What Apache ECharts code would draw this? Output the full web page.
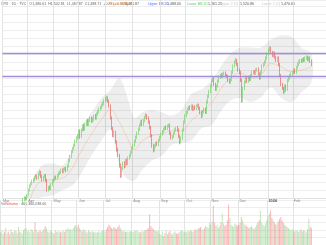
<!DOCTYPE html>
<html><head><meta charset="utf-8">
<script src="https://cdn.jsdelivr.net/npm/echarts@6/dist/echarts.min.js"></script>
<style>html,body{margin:0;padding:0;background:#fff}#c{width:326px;height:245px}</style>
</head><body><div id="c"></div>
<script>
// ---- data ----
const monthLabels = ['Mar','Apr','May','Jun','Jul','Aug','Sep','Oct','Nov','Dec','2024','Feb'];
const monthDays   = [20,20,20,21,22,22,20,20,22,23,20,15];
const futureSlots = 11;

const opens = [
1294,1296,1299,1302,1300,1304,1307,1305,1309,1311,1308,1312,1314,1311,1315,1317,1314,1318,1320,1319,
1325,1330,1335,1338,1341,1343,1346,1347,1345,1350,1352,1347,1343,1346,1348,1342,1330,1333,1332,1337,
1341,1343,1346,1345,1348,1351,1352,1355,1353,1356,1357,1355,1360,1367,1372,1378,1382,1386,1391,1395,
1397,1403,1397,1405,1410,1406,1412,1416,1412,1417,1420,1416,1418,1422,1420,1425,1428,1431,1433,1436,1438,
1442,1443,1445,1441,1435,1420,1407,1398,1402,1390,1380,1373,1361,1348,1357,1363,1360,1367,1363,1370,1373,1377,
1382,1386,1391,1396,1401,1406,1411,1415,1412,1417,1421,1423,1420,1415,1408,1398,1386,1380,1385,1388,1387,1392,
1396,1400,1403,1406,1408,1407,1410,1411,1401,1395,1397,1401,1405,1407,1405,1397,1390,1395,1405,1415,
1423,1427,1431,1433,1432,1435,1431,1433,1432,1435,1436,1432,1427,1423,1428,1431,1427,1440,1447,1453,
1460,1467,1470,1462,1456,1460,1466,1471,1473,1472,1475,1476,1473,1472,1467,1465,1468,1477,1485,1490,1492,1487,
1480,1477,1467,1442,1457,1465,1470,1466,1471,1468,1473,1477,1478,1476,1480,1481,1475,1470,1477,1485,1487,1490,1495,
1500,1505,1507,1502,1498,1501,1496,1492,1495,1487,1473,1462,1457,1453,1460,1456,1467,1470,1473,1475,
1477,1480,1477,1483,1487,1490,1492,1491,1493,1492,1495,1496,1493,1495,1491];
const closes = [
1296,1299,1302,1300,1304,1307,1305,1309,1311,1308,1312,1314,1311,1315,1317,1314,1318,1320,1319,1323,
1330,1335,1338,1341,1343,1346,1347,1345,1350,1352,1347,1343,1346,1348,1342,1330,1333,1332,1337,1341,
1343,1346,1345,1348,1351,1352,1355,1353,1356,1357,1355,1360,1367,1372,1378,1382,1386,1391,1395,1397,
1403,1397,1405,1410,1406,1412,1416,1412,1417,1420,1416,1418,1422,1420,1425,1428,1431,1433,1436,1438,1442,
1443,1445,1441,1435,1420,1407,1398,1402,1390,1380,1373,1361,1348,1357,1363,1360,1367,1363,1370,1373,1377,1382,
1386,1391,1396,1401,1406,1411,1415,1412,1417,1421,1423,1420,1415,1408,1398,1386,1380,1385,1388,1387,1392,1396,
1400,1403,1406,1408,1407,1410,1411,1401,1395,1397,1401,1405,1407,1405,1397,1390,1395,1405,1415,1423,
1427,1431,1433,1432,1435,1431,1433,1432,1435,1436,1432,1427,1423,1428,1431,1427,1440,1447,1453,1460,
1467,1470,1462,1456,1460,1466,1471,1473,1472,1475,1476,1473,1472,1467,1465,1468,1477,1485,1490,1492,1487,1480,
1477,1467,1442,1457,1465,1470,1466,1471,1468,1473,1477,1478,1476,1480,1481,1475,1470,1477,1485,1487,1490,1495,1500,
1505,1507,1502,1498,1501,1496,1492,1495,1487,1473,1462,1457,1453,1460,1456,1467,1470,1473,1475,1477,
1480,1477,1483,1487,1490,1492,1491,1493,1492,1495,1496,1493,1495,1491,1487];
const highs = [
1298,1301,1304,1304,1306,1309,1309,1311,1313,1313,1314,1316,1316,1317,1319,1319,1320,1322,1322,1325,
1332,1337,1340,1343,1345,1348,1350,1349,1352,1355,1354,1349,1348,1350,1350,1344,1335,1336,1339,1343,
1345,1348,1348,1350,1353,1354,1357,1357,1358,1359,1359,1362,1369,1374,1380,1384,1388,1393,1397,1400,
1405,1406,1407,1412,1413,1414,1418,1419,1419,1422,1422,1421,1424,1425,1427,1430,1433,1435,1438,1441,1444,
1446,1448,1447,1443,1437,1422,1409,1405,1404,1392,1383,1375,1363,1359,1365,1366,1369,1369,1372,1375,1379,1384,
1388,1393,1398,1403,1408,1413,1417,1418,1419,1423,1426,1425,1422,1417,1410,1400,1388,1387,1390,1391,1394,1398,
1402,1405,1408,1410,1411,1412,1413,1413,1403,1399,1403,1407,1409,1410,1407,1399,1397,1407,1417,1425,
1429,1433,1435,1436,1437,1437,1435,1436,1437,1438,1438,1434,1429,1430,1433,1433,1442,1449,1455,1462,
1469,1472,1472,1464,1462,1468,1473,1475,1476,1477,1478,1478,1475,1474,1469,1470,1479,1487,1492,1495,1494,1489,
1482,1479,1469,1459,1467,1472,1472,1473,1473,1475,1479,1480,1480,1482,1483,1483,1477,1479,1487,1489,1492,1497,1502,
1507,1510,1509,1504,1503,1503,1498,1497,1497,1489,1475,1464,1459,1462,1462,1469,1472,1475,1477,1479,
1482,1482,1485,1489,1492,1494,1494,1495,1496,1497,1498,1498,1497,1497,1493];
const lows = [
1292,1294,1297,1298,1298,1302,1303,1303,1307,1306,1306,1310,1309,1309,1313,1312,1312,1316,1317,1317,
1323,1328,1333,1336,1339,1341,1344,1343,1343,1348,1345,1341,1341,1344,1340,1328,1328,1330,1330,1335,
1339,1341,1343,1343,1346,1349,1350,1351,1351,1354,1352,1353,1358,1365,1370,1376,1380,1384,1389,1393,
1395,1394,1395,1403,1404,1404,1410,1410,1410,1415,1414,1414,1416,1418,1418,1423,1426,1429,1431,1434,1436,
1440,1441,1439,1433,1418,1405,1396,1396,1388,1378,1371,1358,1345,1346,1355,1357,1358,1361,1361,1368,1371,1375,
1380,1384,1389,1394,1399,1404,1409,1410,1410,1415,1419,1418,1413,1406,1396,1383,1377,1378,1383,1385,1385,1390,
1394,1398,1401,1404,1405,1405,1408,1399,1393,1393,1395,1399,1403,1403,1395,1387,1388,1393,1403,1413,
1421,1425,1429,1430,1430,1429,1429,1430,1430,1433,1430,1425,1420,1421,1426,1425,1425,1438,1445,1451,
1458,1465,1460,1454,1454,1458,1464,1469,1470,1470,1473,1471,1470,1465,1463,1463,1466,1475,1483,1488,1485,1478,
1475,1465,1439,1440,1455,1463,1464,1464,1466,1466,1471,1475,1474,1474,1478,1473,1468,1468,1475,1483,1485,1488,1493,
1498,1503,1500,1496,1496,1494,1490,1490,1485,1471,1460,1455,1450,1451,1453,1454,1465,1468,1471,1473,
1475,1475,1475,1481,1485,1488,1489,1489,1490,1490,1493,1491,1491,1489,1485];
const volumes = [
280,320,250,300,380,260,300,240,350,290,270,330,310,260,400,300,280,250,330,360,
380,300,330,280,350,320,300,510,340,280,300,330,290,310,350,420,380,300,280,320,
300,280,260,330,290,310,280,300,270,320,290,330,350,380,340,360,320,380,420,440,
400,450,380,340,300,350,320,300,280,330,300,290,310,280,300,270,290,310,280,300,330,
320,300,350,400,450,420,380,360,400,380,350,400,450,380,330,300,320,290,300,280,300,310,
300,290,320,310,330,300,280,290,310,300,320,330,350,380,680,420,380,350,330,310,300,320,
250,220,300,200,260,330,240,280,310,250,230,270,300,260,240,280,300,330,310,290,
300,280,320,300,340,310,290,330,350,320,360,380,400,350,330,380,420,400,380,500,
450,520,880,500,420,450,380,420,500,700,480,420,450,550,900,600,450,420,400,480,450,420,
450,500,620,550,480,450,420,400,380,400,420,380,350,400,450,500,550,760,500,450,420,480,550,
650,700,760,600,550,500,450,480,520,580,620,550,500,450,420,400,380,350,330,350,
320,300,340,310,290,320,350,300,330,310,280,350,590,400,380];

// Bollinger band read at sample days (slot index)
const bandDay   = [0,10,20,25,31,39,47,55,61,70,78,85,92,98,104,110,118,126,133,141,149,157,165,173,180,188,196,204,212,220,228,236,244];
const bandUpper = [1305,1315,1325,1348,1361,1363,1361,1380,1405,1427,1445,1455,1470,1448,1420,1427,1430,1427,1423,1430,1450,1456,1467,1486,1500,1508,1508,1508,1518,1523,1522,1508,1500];
const bandLower = [1285,1292,1305,1317,1321,1323,1330,1336,1348,1373,1392,1405,1361,1344,1342,1355,1367,1373,1386,1389,1392,1407,1411,1430,1442,1445,1440,1446,1458,1445,1440,1452,1465];
const bandBasis = [1295,1303,1315,1332,1341,1343,1345,1358,1376,1400,1418,1430,1415,1396,1381,1391,1398,1400,1404,1404,1417,1427,1439,1458,1470,1476,1470,1474,1488,1484,1478,1480,1484];
const levels = [1501, 1472];

// ---- build tables ----
const cats = []; const monthStart = new Map();
monthLabels.forEach((m, mi) => { monthStart.set(cats.length, m); for (let d = 1; d <= monthDays[mi]; d++) cats.push(m + '-' + d); });
for (let j = 1; j <= futureSlots; j++) cats.push('next-' + j);
const isStart = (i) => monthStart.has(i);

const candle = opens.map((o, i) => [o, closes[i], lows[i], highs[i]]);
const UP = '#66cc55', DOWN = '#e5534b';

const chart = echarts.init(document.getElementById('c'), null, {renderer: 'canvas'});
const FF = 'Liberation Sans, Arial, sans-serif';
chart.setOption({
  animation: false,
  backgroundColor: '#ffffff',
  grid: [{left: 0, right: 0, top: 0, height: 198}, {left: 0, right: 0, top: 200, bottom: 0}],
  xAxis: [
    {type: 'category', data: cats, gridIndex: 0, boundaryGap: true,
     axisLine: {show: true, lineStyle: {color: '#e2e2e2', width: 1}}, axisTick: {show: false},
     axisLabel: {show: true, interval: (i) => isStart(i), margin: 1, fontSize: 3.8, color: '#8a8a8a', align: 'left', fontFamily: FF,
       formatter: (v, i) => { const m = monthStart.get(i); return m === '2024' ? '{b|2024}' : m; },
       rich: {b: {fontWeight: 'bold', fontSize: 3.8, color: '#555', fontFamily: FF}}},
     splitLine: {show: true, interval: (i) => isStart(i), lineStyle: {color: '#e3e3e3', width: 1}}},
    {type: 'category', data: cats, gridIndex: 1, boundaryGap: true,
     axisLine: {show: false}, axisTick: {show: false}, axisLabel: {show: false},
     splitLine: {show: true, interval: (i) => isStart(i), lineStyle: {color: '#e3e3e3', width: 1}}}
  ],
  yAxis: [
    {type: 'value', gridIndex: 0, min: 1320, max: 1567.5, interval: 10, position: 'right',
     axisLabel: {show: false}, axisLine: {show: false}, axisTick: {show: false},
     splitLine: {show: true, lineStyle: {color: '#eeeeee', width: 1}}},
    {type: 'value', gridIndex: 1, min: 0, max: 1000, interval: 1000 / 6, position: 'right',
     axisLabel: {show: false}, axisLine: {show: false}, axisTick: {show: false},
     splitLine: {show: true, lineStyle: {color: '#eeeeee', width: 1}}}
  ],
  series: [
    {type: 'custom', xAxisIndex: 0, yAxisIndex: 0, clip: true, silent: true, z: 1,
     data: bandDay.map((d, j) => [d, bandUpper[j], bandLower[j]]),
     renderItem: (params, api) => {
       if (params.dataIndex !== 0) return null;
       const upPts = bandDay.map((d, j) => api.coord([d, bandUpper[j]]));
       const loPts = bandDay.map((d, j) => api.coord([d, bandLower[j]])).reverse();
       return {type: 'polygon', shape: {points: upPts.concat(loPts), smooth: 0.35},
               style: {fill: 'rgba(0,0,0,0.065)'}};
     }},
    {type: 'line', xAxisIndex: 0, yAxisIndex: 0, z: 2, silent: true, smooth: true, showSymbol: false,
     data: bandDay.map((d, j) => [d, bandBasis[j]]),
     lineStyle: {color: 'rgba(245,160,95,0.55)', width: 0.6}},
    {type: 'candlestick', xAxisIndex: 0, yAxisIndex: 0, z: 3, barWidth: 1,
     data: candle,
     itemStyle: {color: UP, color0: DOWN, borderColor: UP, borderColor0: DOWN, borderWidth: 0.6},
     markLine: {symbol: 'none', silent: true, label: {show: false},
       lineStyle: {color: '#a48ddb', width: 1.4, type: 'solid'},
       data: levels.map(v => ({yAxis: v}))}},
    {type: 'bar', xAxisIndex: 1, yAxisIndex: 1, barWidth: 1, silent: true,
     data: volumes.map((v, i) => ({value: v, itemStyle: {color: closes[i] >= opens[i] ? 'rgba(110,195,100,0.42)' : 'rgba(242,95,95,0.45)'}}))}
  ],
  graphic: [
    {type: 'text', left: 1, top: 1.5, style: {text: 'SPX · 1D · TVC   O1,486.61  H1,502.81  L1,467.87  C1,488.71  +0.87 (+0.06%)', fontSize: 3.6, fill: '#666', fontFamily: FF}},
    {type: 'text', left: 110, top: 1.5, style: {text: 'Basis SMA 20', fontSize: 3.6, fill: '#f5a35a', fontFamily: FF}},
    {type: 'text', left: 125, top: 1.5, style: {text: '1,486.87', fontSize: 3.6, fill: '#555', fontFamily: FF}},
    {type: 'text', left: 148, top: 1.5, style: {text: 'Upper BB 20', fontSize: 3.6, fill: '#4a6cf7', fontFamily: FF}},
    {type: 'text', left: 167, top: 1.5, style: {text: '1,488.60', fontSize: 3.6, fill: '#555', fontFamily: FF}},
    {type: 'text', left: 187, top: 1.5, style: {text: 'Lower BB 20', fontSize: 3.6, fill: '#66cc66', fontFamily: FF}},
    {type: 'text', left: 208, top: 1.5, style: {text: '1,461.25', fontSize: 3.6, fill: '#555', fontFamily: FF}},
    {type: 'text', left: 220, top: 1.5, style: {text: 'Upper 2 (1)', fontSize: 3.6, fill: '#c6c6c6', fontFamily: FF}},
    {type: 'text', left: 240, top: 1.5, style: {text: '1,520.86', fontSize: 3.6, fill: '#555', fontFamily: FF}},
    {type: 'text', left: 262, top: 1.5, style: {text: 'Lower 2 (1)', fontSize: 3.6, fill: '#c6c6c6', fontFamily: FF}},
    {type: 'text', left: 281, top: 1.5, style: {text: '1,470.60', fontSize: 3.6, fill: '#555', fontFamily: FF}},
    {type: 'text', left: 1, top: 202, style: {text: 'Vol ·', fontSize: 3.6, fill: '#777', fontFamily: FF}},
    {type: 'text', left: 6, top: 202, style: {text: 'Volume', fontSize: 3.6, fill: '#e5534b', fontFamily: FF}},
    {type: 'text', left: 19, top: 202, style: {text: '· 460,366,038.00', fontSize: 3.6, fill: '#666', fontFamily: FF}}
  ]
});
</script></body></html>
